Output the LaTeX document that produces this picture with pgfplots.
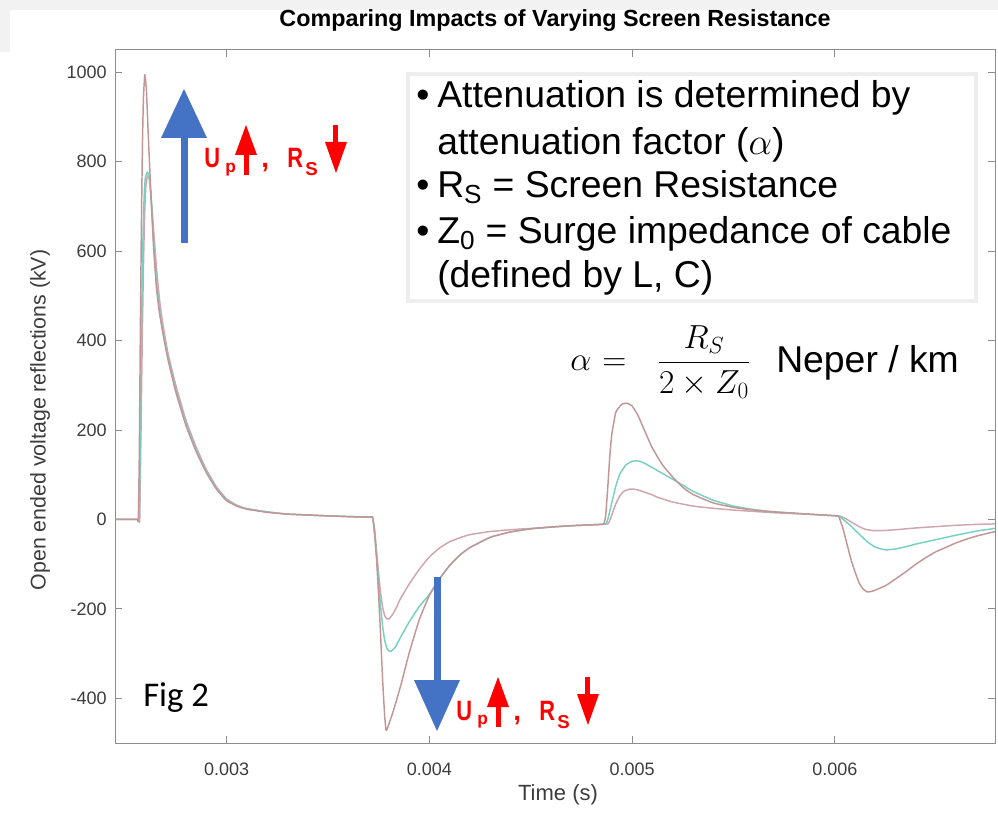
\RequirePackage{fix-cm}
\documentclass[border=0pt]{standalone}
\usepackage{amsmath}
\usepackage{fontspec}
\setmainfont{Liberation Sans}
\newfontfamily\carlito{Carlito}
\usepackage{pgfplots}
\pgfplotsset{compat=1.18}
\usetikzlibrary{calc}

\definecolor{BrownC}{RGB}{195,150,150}
\definecolor{TealC}{RGB}{120,208,192}
\definecolor{PinkC}{RGB}{208,165,175}
\definecolor{BlueA}{RGB}{68,114,196}
\definecolor{RedA}{RGB}{255,0,0}
\definecolor{AxGray}{RGB}{140,140,140}
\definecolor{TickGray}{RGB}{60,60,60}
\definecolor{BoxGray}{RGB}{238,238,238}
\definecolor{BandGray}{RGB}{242,242,242}

% red "Up up, Rs down" label, drawn in pixel units, shifted by #1,#2
\newcommand{\redgroup}[2]{%
\begin{scope}[shift={(#1,#2)}]
  \node[anchor=base west, inner sep=0pt, text=RedA, font=\fontsize{21}{24}\selectfont\bfseries] at (456,720) {\scalebox{0.78}[1]{U}};
  \node[anchor=base west, inner sep=0pt, text=RedA, font=\fontsize{13}{15}\selectfont\bfseries] at (477,724.5) {p};
  \fill[RedA] (487,707) -- (509,707) -- (498,677) -- cycle;
  \fill[RedA] (496,706) rectangle (501,727);
  \node[anchor=base west, inner sep=0pt, text=RedA, font=\fontsize{21}{24}\selectfont\bfseries] at (513,720) {,};
  \node[anchor=base west, inner sep=0pt, text=RedA, font=\fontsize{21}{24}\selectfont\bfseries] at (539,720) {\scalebox{0.78}[1]{R}};
  \node[anchor=base west, inner sep=0pt, text=RedA, font=\fontsize{14}{16}\selectfont\bfseries] at (557,728) {S};
  \fill[RedA] (585,677) rectangle (590,695);
  \fill[RedA] (577,694) -- (599,694) -- (588,725) -- cycle;
\end{scope}}

\begin{document}
\begin{tikzpicture}
\begin{axis}[
    name=ax,
    scale only axis,
    width=660pt,
    height=519.75pt,
    xmin=0.00245, xmax=0.00679,
    ymin=-500, ymax=1050,
    scaled x ticks=false,
    scaled y ticks=false,
    xtick={0.003,0.004,0.005,0.006},
    xticklabels={0.003,0.004,0.005,0.006},
    ytick={-400,-200,0,200,400,600,800,1000},
    yticklabels={-400,-200,0,200,400,600,800,1000},
    tick align=inside,
    major tick length=5pt,
    axis line style={draw=AxGray, line width=0.75pt},
    tick style={draw=AxGray, line width=0.6pt},
    ticklabel style={font=\fontsize{13.5}{16}\selectfont, text=TickGray},
    xticklabel style={anchor=base, inner sep=0pt, yshift=-24pt},
    yticklabel style={anchor=east, inner sep=0pt, xshift=-6pt},
    every axis plot/.append style={line width=1.1pt, smooth, tension=0.25, line join=round}
]
% series 3 (pink)
\addplot[PinkC] coordinates {
(0.00245,0)(0.00256,0)(0.002567,0)(0.002572,0)(0.002578,190)(0.002585,420)(0.00259,560)(0.002596,680)(0.002602,745)(0.00261,768)(0.002618,765)(0.002628,725)(0.00264,650)(0.002655,560)(0.00267,490)(0.002685,440)(0.00271,375)(0.00275,300)(0.0028,222)(0.00285,162)(0.0029,112)(0.00295,73)(0.003,46)(0.00305,32)(0.0031,24)(0.0032,17)(0.0033,12)(0.0035,8)(0.0037,5)(0.00372,5)
(0.00373,-20)(0.00374,-70)(0.00375,-120)(0.00376,-165)(0.00377,-197)(0.00378,-215)(0.00379,-222)(0.0038,-223)(0.00382,-212)(0.00384,-195)(0.003857,-178)(0.0039,-145)(0.00395,-112)(0.004,-84)(0.00405,-64)(0.0041,-50)(0.00415,-41)(0.0042,-34)(0.0043,-27)(0.0044,-23)(0.0045,-20)(0.0046,-17)(0.0047,-14)(0.0048,-12)(0.00488,-10)
(0.00489,-2)(0.0049,10)(0.00492,35)(0.00494,53)(0.00496,63)(0.00499,68)(0.00502,67)(0.00505,63)(0.0051,55)(0.005123,50)(0.0052,39)(0.0053,30)(0.0054,25)(0.0055,21)(0.0056,18)(0.0057,15)(0.0058,13)(0.0059,11)(0.00601,8)
(0.00603,7)(0.00606,0)(0.00609,-8)(0.00612,-16)(0.00615,-22)(0.00619,-25)(0.00623,-25)(0.0063,-23)(0.0064,-19)(0.0065,-16)(0.0066,-13)(0.0067,-11)(0.00679,-10)
};
% series 2 (teal)
\addplot[TealC] coordinates {
(0.00245,0)(0.00256,0)(0.002565,0)(0.00257,0)(0.002575,200)(0.00258,400)(0.002585,560)(0.00259,670)(0.002595,735)(0.0026,765)(0.00261,777)(0.00262,760)(0.00263,700)(0.00264,625)(0.002655,530)(0.00267,465)(0.002685,425)(0.00271,365)(0.00275,290)(0.0028,215)(0.00285,156)(0.0029,108)(0.00295,70)(0.003,44)(0.00305,31)(0.0031,24)(0.0032,17)(0.0033,12)(0.0035,8)(0.0037,5)(0.00372,5)
(0.00373,-30)(0.00374,-80)(0.00375,-140)(0.00376,-195)(0.00377,-240)(0.00378,-270)(0.00379,-287)(0.0038,-294)(0.00381,-295)(0.00383,-287)(0.00386,-262)(0.0039,-230)(0.00395,-195)(0.004,-168)(0.00405,-133)(0.0041,-103)(0.00415,-80)(0.0042,-63)(0.0043,-40)(0.0044,-28)(0.0045,-21)(0.0046,-17)(0.0047,-14)(0.0048,-12)(0.00487,-10)
(0.00488,0)(0.00489,18)(0.0049,38)(0.00492,75)(0.00494,102)(0.00497,122)(0.005,130)(0.00503,131)(0.00506,126)(0.0051,116)(0.00515,103)(0.0052,90)(0.00525,77)(0.0053,63)(0.0054,43)(0.0055,30)(0.0056,22)(0.0057,17)(0.0058,14)(0.0059,11)(0.00601,8)
(0.00602,7)(0.00605,-3)(0.00608,-15)(0.0061,-24)(0.00613,-37)(0.00616,-50)(0.0062,-62)(0.00625,-68)(0.0063,-66)(0.00635,-61)(0.0064,-55)(0.0065,-45)(0.0066,-35)(0.0067,-26)(0.00679,-20)
};
% series 1 (brown)
\addplot[BrownC] coordinates {
(0.00245,0)(0.00255,0)(0.00256,0)(0.002565,0)(0.00257,150)(0.002575,420)(0.00258,650)(0.002585,830)(0.00259,940)(0.002597,995)(0.002605,960)(0.002615,850)(0.002628,720)(0.00264,610)(0.002655,515)(0.00267,460)(0.002685,420)(0.00271,360)(0.00275,285)(0.0028,210)(0.00285,152)(0.0029,105)(0.00295,68)(0.003,42)(0.00305,30)(0.0031,23)(0.0032,16)(0.0033,12)(0.0035,8)(0.0037,5)(0.00372,5)
(0.00373,-30)(0.00374,-90)(0.00375,-170)(0.00376,-260)(0.00377,-360)(0.00378,-440)(0.003787,-472)(0.003795,-465)(0.00382,-432)(0.00384,-402)(0.00386,-370)(0.0039,-300)(0.00395,-225)(0.004,-170)(0.00405,-133)(0.0041,-103)(0.00415,-80)(0.0042,-63)(0.0043,-40)(0.0044,-28)(0.0045,-21)(0.0046,-17)(0.0047,-14)(0.0048,-12)(0.00486,-10)
(0.00487,10)(0.00488,70)(0.00489,140)(0.0049,190)(0.00492,240)(0.00495,258)(0.004975,260)(0.005,254)(0.00503,232)(0.00507,190)(0.0051,160)(0.00515,122)(0.0052,95)(0.00525,72)(0.0053,56)(0.0054,37)(0.0055,27)(0.0056,21)(0.0057,17)(0.0058,14)(0.0059,11)(0.00601,8)
(0.00602,6)(0.00604,-20)(0.00606,-55)(0.00608,-90)(0.0061,-118)(0.00612,-142)(0.00614,-156)(0.00616,-162)(0.00618,-161)(0.0062,-158)(0.00625,-148)(0.0063,-133)(0.00635,-117)(0.0064,-100)(0.00645,-85)(0.0065,-72)(0.00655,-62)(0.0066,-52)(0.00665,-44)(0.0067,-37)(0.00679,-27)
};
\end{axis}

% annotations in pixel units of the reference picture
\begin{scope}[shift={($(ax.north west)+(-86.25pt,37.5pt)$)}, x=0.75pt, y=-0.75pt]
  \fill[BandGray] (0,0) rectangle (998,10);
  \fill[BandGray] (0,10) rectangle (10,52);
  \node[anchor=base, inner sep=0pt, font=\fontsize{17.5}{20}\selectfont\bfseries] at (555,27) {Comparing Impacts of Varying Screen Resistance};
  \node[anchor=base, inner sep=0pt, text=TickGray, font=\fontsize{16.5}{19}\selectfont] at (558,800) {Time (s)};
  \node[rotate=90, inner sep=0pt, text=TickGray, font=\fontsize{16}{19}\selectfont] at (40,420) {Open ended voltage reflections (kV)};

  % text box
  \draw[BoxGray, line width=3.5pt, fill=white] (408,74) rectangle (976,301);
  \begin{scope}[every node/.style={anchor=base west, inner sep=0pt, font=\fontsize{28}{33}\selectfont}]
    \node at (416,108) {\textbullet};
    \node at (437,108) {Attenuation is determined by};
    \node at (437,155) {attenuation factor ($\alpha$)};
    \node at (416,198) {\textbullet};
    \node at (437,198) {R\textsubscript{S} = Screen Resistance};
    \node at (416,244) {\textbullet};
    \node at (437,244) {Z\textsubscript{0} = Surge impedance of cable};
    \node at (437,288) {(defined by L, C)};
  \end{scope}

  % formula
  \node[anchor=base west, inner sep=0pt, font=\fontsize{25}{29}\selectfont] at (570,371) {$\alpha$};
  \node[anchor=base west, inner sep=0pt, font=\fontsize{25}{29}\selectfont] at (602,371) {$=$};
  \node[anchor=base, inner sep=0pt, font=\fontsize{25}{29}\selectfont] at (704,371) {$\dfrac{R_S}{2\times Z_0}$};
  \node[anchor=base west, inner sep=0pt, font=\fontsize{28}{33}\selectfont] at (776,373) {Neper / km};

  % Fig label
  \node[anchor=base west, inner sep=0pt, font=\carlito\fontsize{26}{30}\selectfont] at (143,706) {Fig 2};

  % blue arrows
  \fill[BlueA] (181,243) rectangle (188,137);
  \fill[BlueA] (161,138) -- (207,138) -- (184,89) -- cycle;
  \fill[BlueA] (434,577) rectangle (441,681);
  \fill[BlueA] (414,680) -- (460,680) -- (437,731) -- cycle;

  % red labels
  \redgroup{-252}{-552}
  \redgroup{0}{0}

  \pgfresetboundingbox
  \path (0,0) rectangle (998,814);
\end{scope}
\end{tikzpicture}
\end{document}
